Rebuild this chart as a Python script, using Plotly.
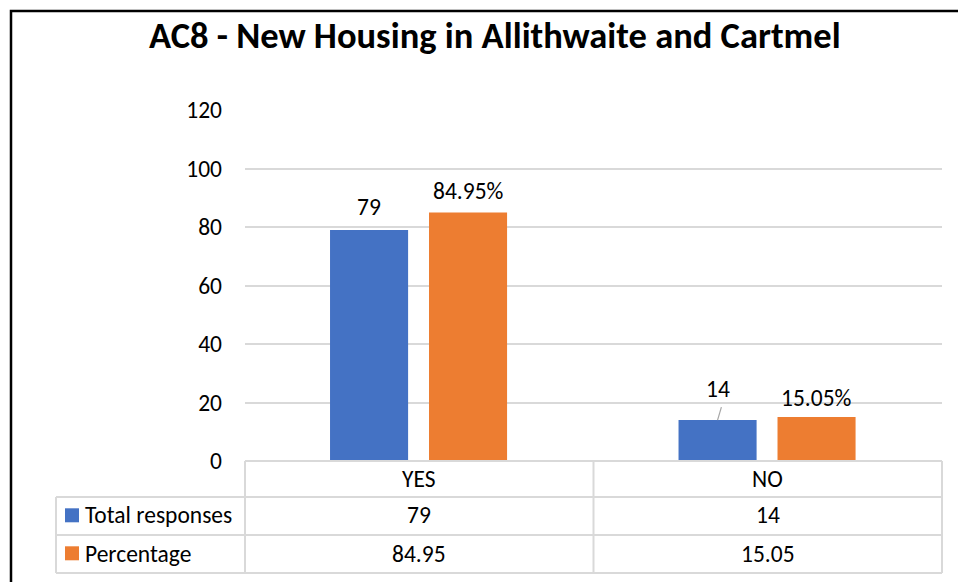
import plotly.graph_objects as go

# Survey results
categories = ["YES", "NO"]
series_names = ["Total responses", "Percentage"]
total_responses = [79, 14]
percentage = [84.95, 15.05]
y_ticks = [0, 20, 40, 60, 80, 100, 120]

BLUE = "#4472C4"
ORANGE = "#ED7D31"
GRID = "#D9D9D9"
FONT = "Carlito, Calibri, Lato, sans-serif"
TXT = 23.5

W, H = 958, 582


def px(x):
    return x / W


def py(y):
    return 1 - y / H


# plot area in pixels
PL, PR, PT, PB = 245, 942, 110, 461
# bar geometry in category units (one category = 1 unit)
BAR_W = 0.224
OFFSETS = [-0.256, 0.028]

xs = list(range(len(categories)))
series_values = [total_responses, percentage]
series_colors = [BLUE, ORANGE]

fig = go.Figure()
for name, vals, col, off in zip(series_names, series_values, series_colors, OFFSETS):
    fig.add_trace(go.Bar(
        x=xs, y=vals, name=name, width=BAR_W, offset=off,
        marker=dict(color=col, line=dict(width=0)),
        showlegend=False,
    ))

annotations = []
shapes = []

# value labels above the bars
label_fmt = ["{:g}", "{:.2f}%"]
label_shift = [[22.5, 31.5], [21.6, 19]]
for s, vals in enumerate(series_values):
    for i, v in enumerate(vals):
        cx = xs[i] + OFFSETS[s] + BAR_W / 2
        annotations.append(dict(
            x=cx, y=v, xref="x", yref="y", text=label_fmt[s].format(v),
            showarrow=False, yanchor="middle", yshift=label_shift[s][i],
            font=dict(family=FONT, size=TXT, color="#000000"),
        ))

# leader line for the displaced "14" label
cx_no = xs[1] + OFFSETS[0] + BAR_W / 2
shapes.append(dict(
    type="line", xref="x", yref="y",
    x0=cx_no, y0=total_responses[1], x1=cx_no + 0.011, y1=total_responses[1] + 4.4,
    line=dict(color="#A6A6A6", width=1.2),
))

# data table beneath the chart
cat_w = (PR - PL) / len(categories)
row_y = [461, 497, 535, 573]
text_y = [478.5, 514.5, 553.5]
TL = 56
tline = dict(color=GRID, width=2)
shapes.append(dict(type="line", xref="paper", yref="paper",
                   x0=px(PL), x1=px(PR), y0=py(row_y[0]), y1=py(row_y[0]), line=tline))
for yy in row_y[1:]:
    shapes.append(dict(type="line", xref="paper", yref="paper",
                       x0=px(TL), x1=px(PR), y0=py(yy), y1=py(yy), line=tline))
shapes.append(dict(type="line", xref="paper", yref="paper",
                   x0=px(TL), x1=px(TL), y0=py(row_y[1]), y1=py(row_y[3]), line=tline))
for k in range(len(categories) + 1):
    xx = PL + k * cat_w
    shapes.append(dict(type="line", xref="paper", yref="paper",
                       x0=px(xx), x1=px(xx), y0=py(row_y[0]), y1=py(row_y[3]), line=tline))

cell_font = dict(family=FONT, size=TXT, color="#000000")
for i, cat in enumerate(categories):
    cx = PL + (i + 0.5) * cat_w
    annotations.append(dict(x=px(cx), y=py(text_y[0]), xref="paper", yref="paper",
                            text=cat, showarrow=False, xanchor="center", yanchor="middle",
                            font=cell_font))
    for s, vals in enumerate(series_values):
        annotations.append(dict(x=px(cx), y=py(text_y[s + 1]), xref="paper", yref="paper",
                                text="{:g}".format(vals[i]), showarrow=False,
                                xanchor="center", yanchor="middle", font=cell_font))

# legend keys inside the table
for s, (name, col) in enumerate(zip(series_names, series_colors)):
    yc = (row_y[s + 1] + row_y[s + 2]) / 2 - 0.7
    shapes.append(dict(type="rect", xref="paper", yref="paper",
                       x0=px(65), x1=px(79), y0=py(yc - 7), y1=py(yc + 7),
                       fillcolor=col, line=dict(width=0)))
    annotations.append(dict(x=px(83), y=py(text_y[s + 1]), xref="paper", yref="paper", text=name,
                            showarrow=False, xanchor="left", yanchor="middle", font=cell_font))

# chart border
shapes.append(dict(type="rect", xref="paper", yref="paper",
                   x0=px(11), x1=px(975), y0=py(11), y1=py(600),
                   line=dict(color="#000000", width=2.5), fillcolor="rgba(0,0,0,0)"))

# chart title
annotations.append(dict(x=px(494.5), y=py(35.5), xref="paper", yref="paper",
                        text="<b>AC8 - New Housing in Allithwaite and Cartmel</b>",
                        showarrow=False, xanchor="center", yanchor="middle",
                        font=dict(family=FONT, size=36.5, color="#000000")))

fig.update_layout(
    width=W, height=H,
    margin=dict(l=0, r=0, t=0, b=0, autoexpand=False),
    paper_bgcolor="white", plot_bgcolor="white",
    showlegend=False,
    xaxis=dict(domain=[px(PL), px(PR)], range=[-0.5, len(categories) - 0.5],
               showticklabels=False, showgrid=False, zeroline=False, showline=False,
               automargin=False, fixedrange=True),
    yaxis=dict(domain=[py(PB), py(PT)], range=[0, 120], tickvals=y_ticks,
               showgrid=True, gridcolor=GRID, gridwidth=1.5, zeroline=False, showline=False,
               ticks="", ticklabelstandoff=22, automargin=False,
               tickfont=dict(family=FONT, size=TXT, color="#000000"), fixedrange=True),
    shapes=shapes,
    annotations=annotations,
)

fig.write_html("out.html")
